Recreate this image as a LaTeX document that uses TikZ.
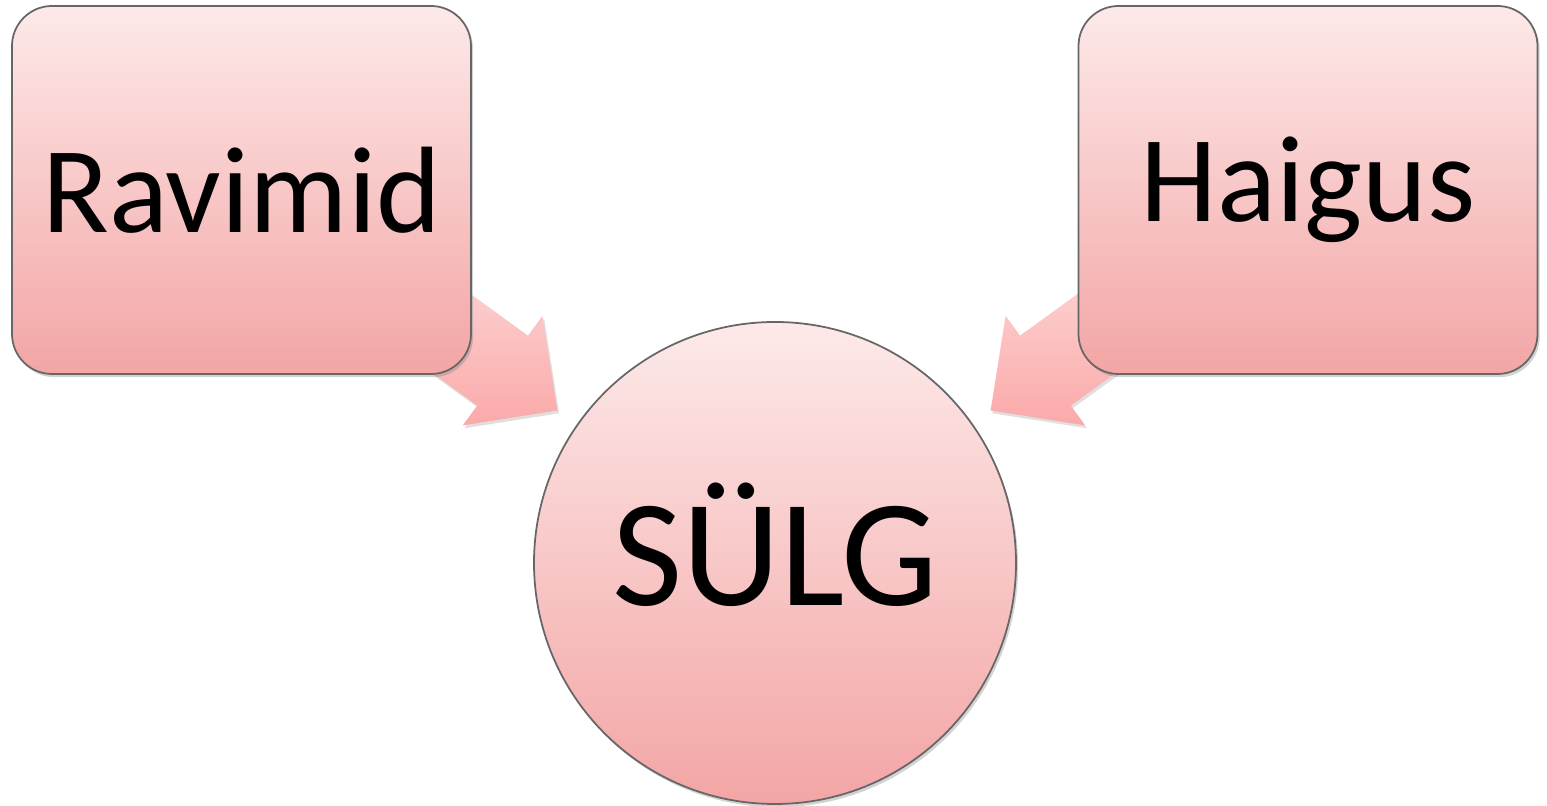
\documentclass[tikz,border=0pt]{standalone}
\usepackage{fontspec}
\setmainfont{Carlito}
\usetikzlibrary{shapes.arrows,shadows}
\definecolor{pinktop}{HTML}{FDE9E9}
\definecolor{pinkbot}{HTML}{F3A5A5}
\definecolor{arrtop}{HTML}{FDD6D6}
\definecolor{arrbot}{HTML}{FBA9A9}
\begin{document}
\begin{tikzpicture}
    \tikzstyle{every node}+=[inner sep=0pt]
    \tikzstyle{cause}=[rectangle, rounded corners=0.4cm, minimum width=4.59cm, minimum height=3.68cm,
        draw=black!60, line width=0.5pt, top color=pinktop, bottom color=pinkbot,
        drop shadow={shadow xshift=0.6pt, shadow yshift=-0.9pt, opacity=0.35}, font=\fontsize{35}{38}\selectfont]
    \tikzstyle{effect}=[circle, minimum size=4.82cm,
        draw=black!60, line width=0.5pt, top color=pinktop, bottom color=pinkbot,
        drop shadow={shadow xshift=0.6pt, shadow yshift=-0.9pt, opacity=0.35}]
    \tikzstyle{push}=[single arrow, single arrow tip angle=90, single arrow head extend=0.245cm,
        inner xsep=0pt, inner ysep=0.425cm, minimum height=2cm, top color=arrtop, bottom color=arrbot,
        drop shadow={shadow xshift=0.5pt, shadow yshift=-0.8pt, opacity=0.25}]
    \useasboundingbox (0,0) rectangle (15.47,8.06);
    % arrows behind the shapes
    \node [push, rotate=-36] (toL) at (4.59,4.67) {};
    \node [push, rotate=216] (toR) at (10.89,4.67) {};
    % shapes
    \node [cause] (ravimid) at (2.415,6.16) {Ravimid};
    \node [cause] (haigus) at (13.08,6.16) {Haigus};
    \node [effect] (sulg) at (7.75,2.43) {};
    \node [font=\fontsize{43.5}{48}\selectfont] (sulgtxt) at ([yshift=0.18cm]sulg.center) {SÜLG};
\end{tikzpicture}
\end{document}
